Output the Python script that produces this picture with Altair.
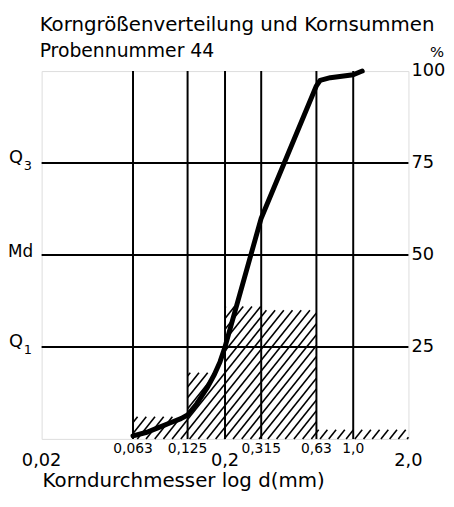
import math
import altair as alt
import pandas as pd

# ---------------- data ----------------
XMIN, XMAX = 0.02, 2.0

# grain-size classes (mm) and their weight percentages (histogram)
bin_lo = [0.063, 0.125, 0.2, 0.315, 0.63, 1.0]
bin_hi = [0.125, 0.2, 0.315, 0.63, 1.0, 2.0]
bin_pct = [6, 18, 36, 35, 2.5, 2.5]

# cumulative curve (Kornsummenkurve)
curve_d = [0.063, 0.075, 0.086, 0.1, 0.115, 0.125, 0.14, 0.159, 0.175, 0.188, 0.2,
           0.315, 0.63, 0.66, 0.75, 1.0, 1.12]
curve_pct = [0.8, 1.8, 3.0, 4.3, 5.5, 6.5, 9.5, 13.7, 17.5, 21, 25,
             60, 96, 97.5, 98.2, 99, 100]

grid_x = [0.063, 0.125, 0.2, 0.315, 0.63, 1.0]
grid_y = [25, 50, 75]

small_tick_vals = [0.063, 0.125, 0.315, 0.63, 1.0]
small_tick_labels = ["0,063", "0,125", "0,315", "0,63", "1,0"]
big_tick_vals = [0.02, 0.2, 2.0]
big_tick_labels = ["0,02", "0,2", "2,0"]

right_vals = [25, 50, 75, 100]
right_labels = ["25", "50", "75", "100"]

quart_vals = [75, 25]
quart_main = ["Q", "Q"]
quart_sub = ["3", "1"]
median_val = [50]
median_label = ["Md"]

title_line1 = "Korngrößenverteilung und Kornsummen"
title_line2 = "Probennummer 44"
x_title = "Korndurchmesser log d(mm)"

# ---------------- layout ----------------
W, H = 371, 372
FONT = "DejaVu Sans"

xscale = alt.Scale(type="log", domain=[XMIN, XMAX], nice=False)
yscale = alt.Scale(domain=[0, 100], nice=False, zero=True)

LMIN, LMAX = math.log10(XMIN), math.log10(XMAX)


def u_of(x):
    return (math.log10(x) - LMIN) / (LMAX - LMIN) * W


def x_of(u):
    return 10 ** (LMIN + u / W * (LMAX - LMIN))


# hatch lines derived from the histogram bars
K = 1.25
STEP = 11.0
hatch = []
for lo, hi, p in zip(bin_lo, bin_hi, bin_pct):
    u0, u1 = u_of(lo), u_of(hi)
    h = p / 100 * H
    cmin = -K * u1
    cmax = h - K * u0
    for n in range(math.ceil(cmin / STEP), math.floor(cmax / STEP) + 1):
        c = n * STEP
        ua = max(u0, (0 - c) / K)
        ub = min(u1, (h - c) / K)
        if ub - ua > 0.4:
            hatch.append(dict(x=x_of(ua), x2=x_of(ub),
                              y=(K * ua + c) / H * 100, y2=(K * ub + c) / H * 100))
hatch_df = pd.DataFrame(hatch)

curve_df = pd.DataFrame({"x": curve_d, "y": curve_pct})
gx_df = pd.DataFrame({"x": grid_x})
gy_df = pd.DataFrame({"y": grid_y})

X = lambda f="x": alt.X(f"{f}:Q", scale=xscale, axis=None)
Y = lambda f="y": alt.Y(f"{f}:Q", scale=yscale, axis=None)

vgrid = alt.Chart(gx_df).mark_rule(color="black", strokeWidth=2).encode(x=X())
hgrid = alt.Chart(gy_df).mark_rule(color="black", strokeWidth=2).encode(y=Y())

hatch_layer = alt.Chart(hatch_df).mark_rule(color="black", strokeWidth=1.6).encode(
    x=X(), x2="x2:Q", y=Y(), y2="y2:Q")

curve = alt.Chart(curve_df).mark_line(
    color="black", strokeWidth=5, interpolate="linear", strokeCap="round",
    strokeJoin="round").encode(x=X(), y=Y())

small_ticks = alt.Chart(pd.DataFrame({"x": small_tick_vals, "t": small_tick_labels})).mark_text(
    font=FONT, fontSize=14, baseline="middle", align="center", color="black").encode(
    x=X(), y=alt.value(H + 10), text="t:N")

big_ticks = alt.Chart(pd.DataFrame({"x": big_tick_vals, "t": big_tick_labels})).mark_text(
    font=FONT, fontSize=18, baseline="middle", align="center", color="black").encode(
    x=X(), y=alt.value(H + 22), text="t:N")

right = alt.Chart(pd.DataFrame({"y": right_vals, "t": right_labels})).mark_text(
    font=FONT, fontSize=18, baseline="middle", align="left", color="black").encode(
    y=Y(), x=alt.value(W + 3), text="t:N")

pct = alt.Chart(pd.DataFrame({"y": [100], "t": ["%"]})).mark_text(
    font=FONT, fontSize=15, baseline="middle", align="right", color="black", dy=-19).encode(
    y=Y(), x=alt.value(W + 36), text="t:N")

q_main = alt.Chart(pd.DataFrame({"y": quart_vals, "t": quart_main})).mark_text(
    font=FONT, fontSize=18, baseline="alphabetic", align="left", color="black").encode(
    y=Y(), x=alt.value(-33), text="t:N")

q_sub = alt.Chart(pd.DataFrame({"y": quart_vals, "t": quart_sub})).mark_text(
    font=FONT, fontSize=13, baseline="alphabetic", align="left", color="black", dy=7).encode(
    y=Y(), x=alt.value(-18), text="t:N")

md = alt.Chart(pd.DataFrame({"y": median_val, "t": median_label})).mark_text(
    font=FONT, fontSize=17, baseline="alphabetic", align="left", color="black", dy=2).encode(
    y=Y(), x=alt.value(-34), text="t:N")

title1 = alt.Chart(pd.DataFrame({"t": [title_line1]})).mark_text(
    font=FONT, fontSize=20, baseline="alphabetic", align="left", color="black").encode(
    x=alt.value(-2), y=alt.value(-41), text="t:N")

title2 = alt.Chart(pd.DataFrame({"t": [title_line2]})).mark_text(
    font=FONT, fontSize=19, baseline="alphabetic", align="left", color="black").encode(
    x=alt.value(-2), y=alt.value(-14), text="t:N")

xtitle = alt.Chart(pd.DataFrame({"t": [x_title]})).mark_text(
    font=FONT, fontSize=20, baseline="alphabetic", align="left", color="black").encode(
    x=alt.value(1), y=alt.value(H + 49), text="t:N")

chart = alt.layer(
    hatch_layer, vgrid, hgrid, curve, small_ticks, big_ticks, right, pct,
    q_main, q_sub, md, title1, title2, xtitle
).properties(
    width=W, height=H,
    autosize=alt.AutoSizeParams(type="none"),
    padding={"left": 34, "top": 61, "right": 38, "bottom": 58},
).configure_view(stroke="black", strokeWidth=2).configure(background="white")

chart.save("out.html", embed_options={"renderer": "svg", "actions": False})
